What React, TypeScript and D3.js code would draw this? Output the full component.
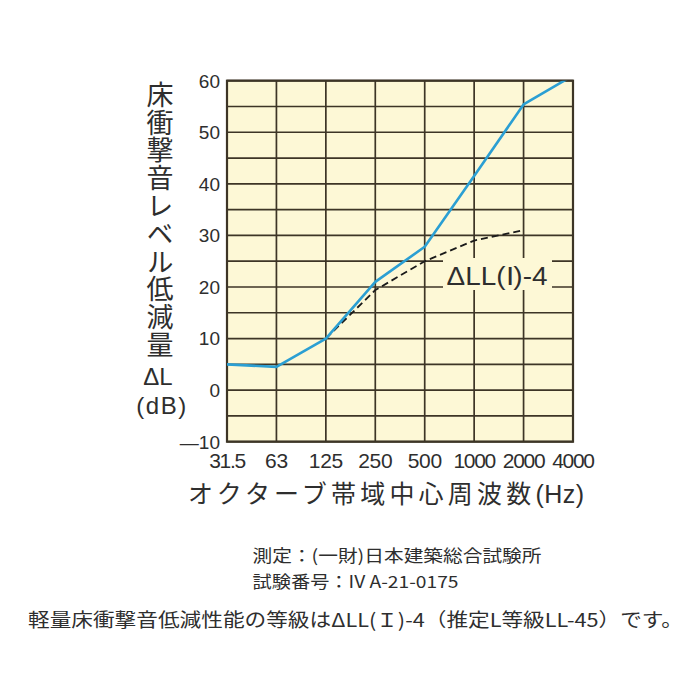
import React from "react";
import * as d3 from "d3";

const categories = ["31.5", "63", "125", "250", "500", "1000", "2000", "4000"];
const measured = [5, 4.5, 10, 21, 27.8, 41.5, 55.4, 61];
const gradeCats = ["125", "250", "500", "1000", "2000"];
const gradeValues = [10, 19.4, 25, 29, 31];
const yTicks = [-10, 0, 10, 20, 30, 40, 50, 60];
const yGrid = [-5, 5, 15, 25, 35, 45, 55];
const yTitle = "床衝撃音レベル低減量";
const yUnit1 = "ΔL";
const yUnit2 = "(dB)";
const gradeLabel = "ΔLL(Ⅰ)-4";
const xTitleA = "オクターブ帯域中心周波数";
const xTitleB = "(Hz)";
const note1 = "測定：(一財)日本建築総合試験所";
const note2 = "試験番号：IV A-21-0175";
const note3 = "軽量床衝撃音低減性能の等級はΔLL(Ｉ)-4（推定L等級LL-45）です。";

const X0 = 227;
const X1 = 573;
const Y0 = 441.7;
const Y1 = 80.7;

const NUM = "'Liberation Sans', Arial, Helvetica, sans-serif";
const JP = "'Noto Sans CJK JP', 'Noto Sans', sans-serif";
const TXT = "#2e2e2e";
const GRID = "#3d3526";
const BG = "#fdf8d6";

export default function App() {
  const x = d3.scalePoint<string>().domain(categories).range([X0, X1]);
  const y = d3.scaleLinear().domain([-10, 60]).range([Y0, Y1]);

  const lineMeasured = d3
    .line<number>()
    .x((_, i) => x(categories[i]) as number)
    .y((d) => y(d));
  const lineGrade = d3
    .line<number>()
    .x((_, i) => x(gradeCats[i]) as number)
    .y((d) => y(d));

  const lx0 = 443;
  const lx1 = 552;

  return (
    <svg
      width={700}
      height={700}
      style={{ position: "absolute", left: 0, top: 0, background: "#fff" }}
    >
      <defs>
        <clipPath id="plotClip">
          <rect x={X0} y={Y1} width={X1 - X0} height={Y0 - Y1} />
        </clipPath>
      </defs>
      <rect x={X0} y={Y1} width={X1 - X0} height={Y0 - Y1} fill={BG} />
      {/* grid */}
      {[...yTicks, ...yGrid].map((v) => (
        <line
          key={"h" + v}
          x1={X0}
          x2={X1}
          y1={y(v)}
          y2={y(v)}
          stroke={GRID}
          strokeWidth={1.7}
        />
      ))}
      {categories.map((c) => (
        <line
          key={"v" + c}
          x1={x(c)}
          x2={x(c)}
          y1={Y1}
          y2={Y0}
          stroke={GRID}
          strokeWidth={1.7}
        />
      ))}
      <rect
        x={X0}
        y={Y1}
        width={X1 - X0}
        height={Y0 - Y1}
        fill="none"
        stroke={GRID}
        strokeWidth={2.2}
      />
      {/* label box */}
      <rect x={lx0} y={258} width={lx1 - lx0} height={32} fill={BG} />
      <g clipPath="url(#plotClip)">
        <path
          d={lineGrade(gradeValues) || ""}
          fill="none"
          stroke="#1a1a1a"
          strokeWidth={1.8}
          strokeDasharray="7,4"
        />
        <path
          d={lineMeasured(measured) || ""}
          fill="none"
          stroke="#2b9fd3"
          strokeWidth={2.6}
          strokeLinejoin="round"
        />
      </g>
      <text
        x={446.5}
        y={285}
        fontFamily={NUM}
        fontSize={25}
        fill={TXT}
        textLength={101}
        lengthAdjust="spacingAndGlyphs"
      >
        {gradeLabel}
      </text>
      {/* y ticks */}
      {yTicks.map((v) => (
        <text
          key={"yt" + v}
          x={220}
          y={y(v)}
          dy="0.36em"
          textAnchor="end"
          fontFamily={NUM}
          fontSize={19}
          fill={TXT}
        >
          {v < 0 ? "—" + Math.abs(v) : String(v)}
        </text>
      ))}
      {/* x ticks */}
      {categories.map((c) => (
        <text
          key={"xt" + c}
          x={x(c)}
          y={468}
          textAnchor="middle"
          fontFamily={NUM}
          fontSize={21}
          fill={TXT}
          letterSpacing={c.length >= 4 ? -1.3 : -0.3}
        >
          {c}
        </text>
      ))}
      {/* y title (vertical) */}
      <text
        x={160}
        y={81}
        fontFamily={JP}
        fontSize={27}
        fill={TXT}
        style={{ writingMode: "vertical-rl" } as React.CSSProperties}
        letterSpacing={0.8}
      >
        {yTitle}
      </text>
      <text
        x={158}
        y={385}
        textAnchor="middle"
        fontFamily={NUM}
        fontSize={24}
        fill={TXT}
      >
        {yUnit1}
      </text>
      <text
        x={162}
        y={414}
        textAnchor="middle"
        fontFamily={NUM}
        fontSize={24}
        fill={TXT}
        letterSpacing={1.5}
      >
        {yUnit2}
      </text>
      {/* x title */}
      <text x={188} y={503} fontFamily={JP} fontSize={25} fill={TXT}>
        <tspan letterSpacing={4.2}>{xTitleA}</tspan>
        <tspan fontFamily={NUM} fontSize={25} letterSpacing={0.5}>
          {xTitleB}
        </tspan>
      </text>
      {/* notes */}
      <text
        x={252.5}
        y={562}
        fontFamily={JP}
        fontSize={17}
        fill={TXT}
        textLength={289}
        lengthAdjust="spacingAndGlyphs"
      >
        {note1}
      </text>
      <text
        x={252.5}
        y={588}
        fontFamily={JP}
        fontSize={17}
        fill={TXT}
        textLength={206}
        lengthAdjust="spacingAndGlyphs"
      >
        {note2}
      </text>
      <text
        x={28}
        y={627}
        fontFamily={JP}
        fontSize={19}
        fill={TXT}
        textLength={655}
        lengthAdjust="spacingAndGlyphs"
      >
        {note3}
      </text>
    </svg>
  );
}
